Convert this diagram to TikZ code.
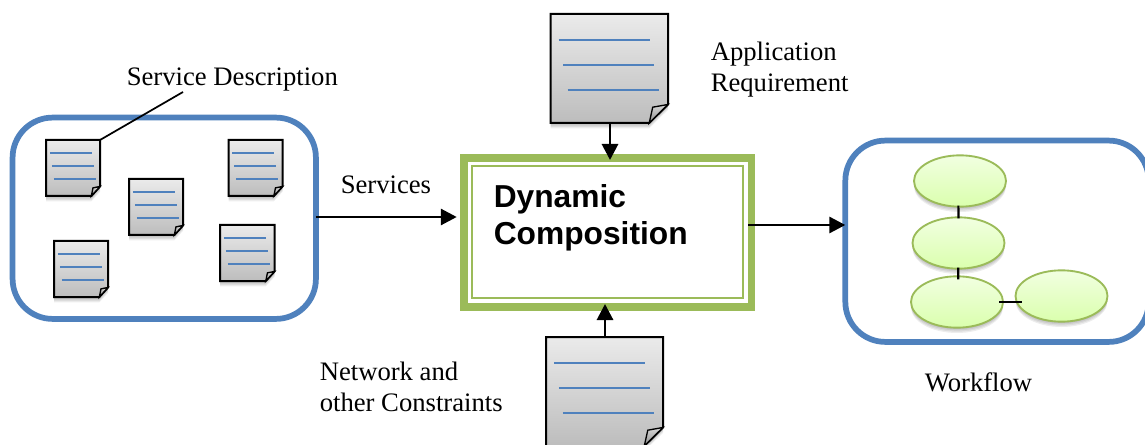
\documentclass[tikz,border=0pt]{standalone}
\usepackage{fontspec}
\setmainfont{Liberation Serif}
\newfontfamily\headfont{Liberation Sans}
\usetikzlibrary{arrows.meta,shapes.geometric,calc}
\definecolor{boxblue}{HTML}{4F81BD}
\definecolor{boxgreen}{HTML}{9BBB59}
\tikzset{
  softshadow/.style={
    preaction={fill=black,opacity=.07,transform canvas={yshift=-1.0pt}},
    preaction={fill=black,opacity=.07,transform canvas={yshift=-2.0pt}},
    preaction={fill=black,opacity=.07,transform canvas={yshift=-3.0pt}},
    preaction={fill=black,opacity=.07,transform canvas={yshift=-4.0pt}}},
  docanchor/.style={rectangle,inner sep=0pt,outer sep=0pt},
  docpage/.style={draw=black,line width=1.5pt,line join=miter,top color=black!8,bottom color=black!26,softshadow},
  docfold/.style={draw=black,line width=1pt,top color=black!15,bottom color=black!45},
  docline/.style={draw=boxblue,line width=1.5pt},
  roundbox/.style={draw=boxblue,line width=4.3pt,rounded corners=30pt,fill=white,outer sep=0pt},
  flowball/.style={ellipse,draw=boxgreen,line width=1.4pt,top color=green!45!yellow!12,bottom color=green!45!yellow!32,minimum width=69pt,minimum height=38.5pt,inner sep=0pt,softshadow},
  link/.style={draw=black,line width=1.6pt},
  flow/.style={draw=black,line width=2.2pt,-{Triangle[length=12pt,width=12pt]}},
  label/.style={anchor=base west,inner sep=0pt,align=left,font=\fontsize{20}{23.25}\selectfont},
  headlabel/.style={anchor=base west,inner sep=0pt,font=\headfont\bfseries\fontsize{23.8}{27}\selectfont}
}
\newcommand{\docnode}[5]{%
  \begin{scope}[shift={(#2,#3)},x=#4*.75pt,y=-#5*.75pt]
    \node[docanchor,minimum width=#4*.75pt,minimum height=#5*.75pt] (#1) at (.5,.5) {};
    \draw[docpage] (0,0) -- (1,0) -- (1,.83) -- (.84,1) -- (0,1) -- cycle;
    \draw[docfold] (.84,1) -- (.87,.855) -- (1,.83) -- cycle;
    \draw[docline] (.07,.24) -- (.845,.24);
    \draw[docline] (.11,.47) -- (.885,.47);
    \draw[docline] (.145,.70) -- (.92,.70);
  \end{scope}}
\begin{document}
\begin{tikzpicture}[x=.75pt,y=-.75pt]
\clip (0,0) rectangle (1145,445);
\fill[white] (0,0) rectangle (1145,445);

% left container
\node[roundbox,rectangle,minimum width=227.5pt,minimum height=151pt,inner sep=0pt] (services) at (164.25,218.25) {};
\docnode{d1}{46}{140}{54}{56}
\docnode{d2}{129}{179}{54}{56}
\docnode{d3}{228.5}{140}{54}{56}
\docnode{d4}{54}{241}{54}{56}
\docnode{d5}{220}{225}{54.5}{56}

% central box
\node[rectangle,draw=boxgreen,line width=5.6pt,minimum width=215.6pt,minimum height=111.75pt,inner sep=0pt,outer sep=0pt,fill=white] (comp) at (607.5,232.5) {};
\node[rectangle,draw=boxgreen,line width=1.5pt,minimum width=203pt,minimum height=99pt,inner sep=0pt] (compin) at (607.5,232) {};
\node[headlabel] (dyn) at (493.5,208) {Dynamic};
\node[headlabel] (cmp) at (493.5,244) {Composition};

% documents top and bottom
\docnode{req}{550.5}{14}{117.5}{109}
\docnode{net}{546}{337}{117}{109}

% right container
\node[roundbox,rectangle,minimum width=227.5pt,minimum height=151pt,inner sep=0pt] (wf) at (997,241.25) {};
\node[flowball] (e1) at (960,181) {};
\node[flowball] (e2) at (958.5,243) {};
\node[flowball] (e3) at (957,302) {};
\node[flowball] (e4) at (1061.5,296) {};
\draw[link] ([xshift=-1.2pt,yshift=1.5pt]e1.south) -- ([xshift=0pt,yshift=-1.5pt]e2.north);
\draw[link] ([xshift=-.2pt,yshift=1.5pt]e2.south) -- ([xshift=.9pt,yshift=-3pt]e3.north);
\draw[link] ([xshift=-3.7pt]e3.east) -- ($(e3.east -| e4.west)+(7,0)$);

% connectors
\coordinate (tip) at (183,92);
\draw[link,line width=1.3pt] (d1.north east) -- (tip);
\draw[flow] ($(services.east |- 0,217)$) -- ($(comp.west |- 0,217)+(-7,0)$);
\draw[flow] ($(comp.east |- 0,225)+(-3,0)$) -- ($(wf.west |- 0,225)$);
\draw[flow] (req.south -| 610,0) -- (610,160);
\draw[flow] (net.north -| 605,0) -- (605,304);

% labels
\node[label] (l1) at (126.5,86) {Service Description};
\node[label] (l2) at (340.5,194) {Services};
\node[label] (l3) at (710.5,92) {Application\\Requirement};
\node[label] (l4) at (319.5,411) {Network and\\other Constraints};
\node[label] (l5) at (924.5,391) {Workflow};
\end{tikzpicture}
\end{document}
